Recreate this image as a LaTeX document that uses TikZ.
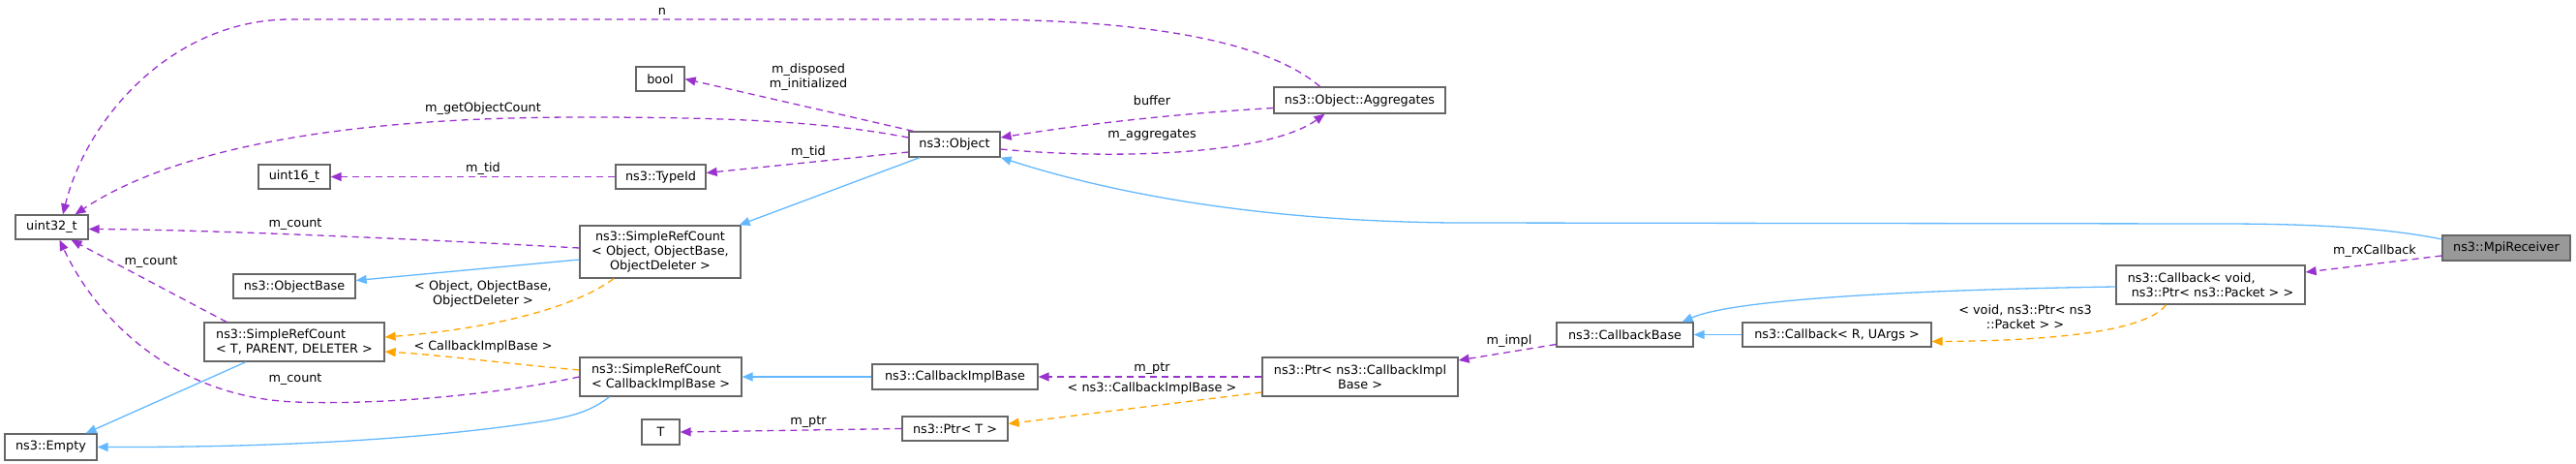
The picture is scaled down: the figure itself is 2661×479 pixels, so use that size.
\documentclass[tikz,border=0pt]{standalone}
\usepackage{fontspec}
\setmainfont{DejaVu Sans}
\usetikzlibrary{arrows.meta}
\definecolor{usecol}{HTML}{9A32CD}
\definecolor{inhcol}{HTML}{63B8FF}
\definecolor{tplcol}{HTML}{FFA500}
\definecolor{boxcol}{HTML}{666666}
\definecolor{curfill}{HTML}{999999}
\tikzset{
  box/.style={draw=boxcol, line width=1.3pt, fill=white, inner sep=0pt, align=center,
    font=\fontsize{12.8}{15}\selectfont},
  lbl/.style={inner sep=0pt, align=center, font=\fontsize{12.8}{15}\selectfont},
  usage/.style={draw=usecol, line width=1.3pt, dash pattern=on 7pt off 5pt,
    -{Triangle[length=11pt,width=9pt,fill=usecol]}},
  inherit/.style={draw=inhcol, line width=1.3pt,
    -{Triangle[length=11pt,width=9pt,fill=inhcol]}},
  templ/.style={draw=tplcol, line width=1.3pt, dash pattern=on 7pt off 5pt,
    -{Triangle[length=11pt,width=9pt,fill=tplcol]}}
}
\begin{document}
\begin{tikzpicture}[x=1pt,y=-1pt]
\useasboundingbox (0,0) rectangle (2661,479);
% nodes
\node[box, minimum width=75pt, minimum height=25pt] (u32) at (53.5,234.5) {uint32\_t};
\node[box, minimum width=50pt, minimum height=25pt] (bool) at (682,81.5) {bool};
\node[box, minimum width=94pt, minimum height=26pt] (obj) at (986,149) {ns3::Object};
\node[box, minimum width=177pt, minimum height=27pt] (agg) at (1404.5,103.5) {ns3::Object::Aggregates};
\node[box, minimum width=74pt, minimum height=25pt] (u16) at (304,182.5) {uint16\_t};
\node[box, minimum width=93pt, minimum height=25pt] (tid) at (682.5,182.5) {ns3::TypeId};
\node[box, minimum width=166pt, minimum height=54pt] (srcobj) at (682,260) {ns3::SimpleRefCount\\< Object, ObjectBase,\\ObjectDeleter >};
\node[box, minimum width=126pt, minimum height=25pt] (objbase) at (304,295.5) {ns3::ObjectBase};
\node[box, minimum width=186pt, minimum height=40pt, align=left] (srctpd) at (304,353) {ns3::SimpleRefCount\\< T, PARENT, DELETER >};
\node[box, minimum width=167pt, minimum height=40pt, align=left] (srccib) at (682.5,389) {ns3::SimpleRefCount\\< CallbackImplBase >};
\node[box, minimum width=95pt, minimum height=27pt] (empty) at (52.5,461.5) {ns3::Empty};
\node[box, minimum width=39pt, minimum height=26pt] (T) at (682.5,446) {T};
\node[box, minimum width=171pt, minimum height=26pt] (cib) at (986.5,389) {ns3::CallbackImplBase};
\node[box, minimum width=109pt, minimum height=25pt] (ptrt) at (986.5,442.5) {ns3::Ptr< T >};
\node[box, minimum width=202pt, minimum height=40pt] (ptrcib) at (1405,389) {ns3::Ptr< ns3::CallbackImpl\\Base >};
\node[box, minimum width=141pt, minimum height=25pt] (cbbase) at (1678.5,345.5) {ns3::CallbackBase};
\node[box, minimum width=195pt, minimum height=25pt] (cbr) at (1897.5,345.5) {ns3::Callback< R, UArgs >};
\node[box, minimum width=195pt, minimum height=40pt, align=left] (cbvoid) at (2283.5,294) {ns3::Callback< void,\\\ ns3::Ptr< ns3::Packet > >};
\node[box, fill=curfill, minimum width=132pt, minimum height=26pt] (mpi) at (2589,256) {ns3::MpiReceiver};
% usage (purple)
\draw[usage] ([xshift=-41pt]agg.north) .. controls (1300,35) and (1150,20) .. (1000,20) -- (300,20) .. controls (180,20) and (90,120) .. ([xshift=11.5pt]u32.north);
\draw[usage] ([xshift=5pt]obj.north west) -- (bool.east);
\draw[usage] ([yshift=7pt]obj.west) .. controls (850,125) and (750,121) .. (600,121) .. controls (330,121) and (170,160) .. ([xshift=24pt]u32.north);
\draw[usage] ([yshift=-8pt]agg.west) .. controls (1220,117) and (1120,128) .. ([yshift=7pt]obj.east);
\draw[usage] ([yshift=-5pt]obj.east) .. controls (1150,165) and (1310,160) .. ([xshift=-36pt]agg.south);
\draw[usage] ([yshift=-8pt]obj.west) -- ([yshift=4pt]tid.east);
\draw[usage] (tid.west) -- (u16.east);
\draw[usage] ([yshift=4pt]srcobj.west) .. controls (400,245) and (200,237) .. ([yshift=-2pt]u32.east);
\draw[usage] ([xshift=-70pt]srctpd.north) -- ([xshift=20pt]u32.south);
\draw[usage] (srccib.west) .. controls (500,410) and (380,418) .. (305,415) .. controls (180,410) and (100,330) .. ([xshift=8pt]u32.south);
\draw[usage] (ptrcib.west) -- (cib.east);
\draw[usage] (ptrt.west) -- (T.east);
\draw[usage] ([yshift=-10pt]cbbase.west) -- ([yshift=17pt]ptrcib.east);
\draw[usage] ([yshift=-8pt]mpi.west) -- ([yshift=13pt]cbvoid.east);
% inheritance (blue)
\draw[inherit] ([yshift=9pt]mpi.west) .. controls (2450,232) and (2350,231) .. (2290,231) -- (1500,230) .. controls (1300,228) and (1150,200) .. (obj.south east);
\draw[inherit] ([xshift=-36pt]obj.south) -- ([xshift=-2pt]srcobj.north east);
\draw[inherit] ([yshift=-8pt]srcobj.west) -- ([yshift=6pt]objbase.east);
\draw[inherit] ([xshift=-50pt]srctpd.south) -- ([xshift=-12pt]empty.north east);
\draw[inherit] ([xshift=-53pt]srccib.south) .. controls (610,425) and (590,430) .. (560,435) .. controls (450,452) and (300,462) .. (empty.east);
\draw[inherit] (cib.west) -- (srccib.east);
\draw[inherit] (cbr.west) -- (cbbase.east);
\draw[inherit] ([yshift=-2pt]cbvoid.west) .. controls (2050,298) and (1800,305) .. ([xshift=-12pt]cbbase.north east);
% template (orange)
\draw[templ] ([xshift=-48pt]srcobj.south) .. controls (590,320) and (500,340) .. ([yshift=5pt]srctpd.east);
\draw[templ] ([yshift=7pt]srccib.west) .. controls (520,375) and (450,366) .. ([yshift=-10pt]srctpd.east);
\draw[templ] ([yshift=-16pt]ptrcib.west) -- ([yshift=5pt]ptrt.east);
\draw[templ] ([xshift=-46pt]cbvoid.south) .. controls (2215,345) and (2100,352) .. ([yshift=-7pt]cbr.east);
% labels
\node[lbl] (ln) at (684,12) {n};
\node[lbl] (ldisp) at (835,79.5) {m\_disposed\\m\_initialized};
\node[lbl] (lgoc) at (499,112) {m\_getObjectCount};
\node[lbl] (lbuf) at (1190,104) {buffer};
\node[lbl] (lagg) at (1190,140) {m\_aggregates};
\node[lbl] (ltid1) at (835,157) {m\_tid};
\node[lbl] (ltid2) at (499,174) {m\_tid};
\node[lbl] (lcnt1) at (305,232) {m\_count};
\node[lbl] (lcnt2) at (156,271) {m\_count};
\node[lbl] (lcnt3) at (305,392) {m\_count};
\node[lbl] (lobjtpl) at (499,303) {< Object, ObjectBase,\\ObjectDeleter >};
\node[lbl] (lcibtpl) at (499,358) {< CallbackImplBase >};
\node[lbl] (lptr1) at (1190,381) {m\_ptr};
\node[lbl] (lptrtpl) at (1190,401) {< ns3::CallbackImplBase >};
\node[lbl] (lptr2) at (835,436) {m\_ptr};
\node[lbl] (limpl) at (1559,352) {m\_impl};
\node[lbl] (lrx) at (2453,259) {m\_rxCallback};
\node[lbl] (lcbtpl) at (2092,327.5) {< void, ns3::Ptr< ns3\\::Packet > >};
\end{tikzpicture}
\end{document}
